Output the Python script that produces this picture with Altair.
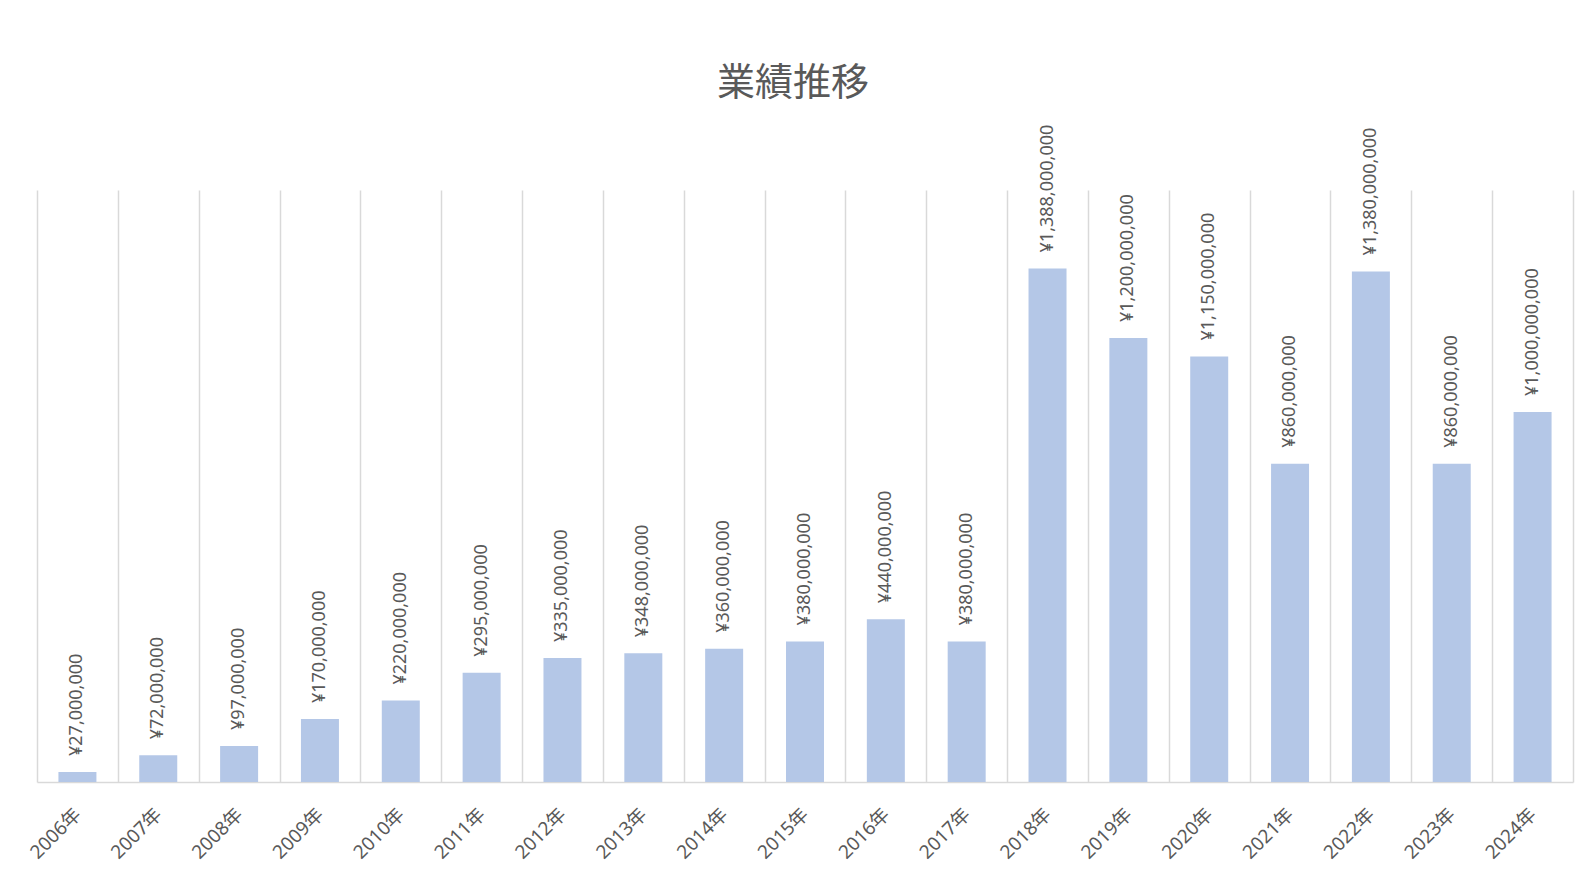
import altair as alt
import pandas as pd

years = ["2006年", "2007年", "2008年", "2009年", "2010年", "2011年", "2012年",
         "2013年", "2014年", "2015年", "2016年", "2017年", "2018年", "2019年",
         "2020年", "2021年", "2022年", "2023年", "2024年"]
sales = [27000000, 72000000, 97000000, 170000000, 220000000, 295000000,
         335000000, 348000000, 360000000, 380000000, 440000000, 380000000,
         1388000000, 1200000000, 1150000000, 860000000, 1380000000,
         860000000, 1000000000]

df = pd.DataFrame({"year": years, "sales": sales})
df["label"] = ["¥{:,}".format(v) for v in sales]

GRAY = "#595959"
LINE = "#D9D9D9"
FONT = "Noto Sans, Noto Sans CJK JP"

x = alt.X("year:N", sort=years, title=None,
          scale=alt.Scale(paddingInner=0, paddingOuter=0),
          axis=alt.Axis(labelAngle=-45, labelAlign="right", labelBaseline="middle",
                        labelPadding=29, ticks=False, tickSize=0, tickBand="extent",
                        grid=True, gridColor=LINE, gridWidth=1.5,
                        domainColor=LINE, domainWidth=1.5,
                        labelColor=GRAY, labelFontSize=19, labelFont=FONT))
y = alt.Y("sales:Q", title=None, axis=None,
          scale=alt.Scale(domain=[0, 1600000000], nice=False))

bars = alt.Chart(df).mark_bar(color="#B4C7E7", width=alt.RelativeBandSize(0.47)).encode(x=x, y=y)
labels = alt.Chart(df).mark_text(angle=270, align="left", baseline="middle", dx=16,
                                 fontSize=18, color=GRAY, font=FONT).encode(
    x=alt.X("year:N", sort=years), y="sales:Q", text="label:N")

chart = alt.layer(bars, labels).properties(
    width=1536, height=592,
    title=alt.TitleParams("業績推移", fontSize=38, color=GRAY, font="Noto Sans CJK JP",
                          fontWeight="normal", anchor="middle", dx=-12, offset=22),
    autosize=alt.AutoSizeParams(type="none"),
    padding={"left": 29, "top": 182, "right": 10, "bottom": 92},
).configure_view(stroke=None)

chart.save("out.html", embed_options={"renderer": "svg", "actions": False})
